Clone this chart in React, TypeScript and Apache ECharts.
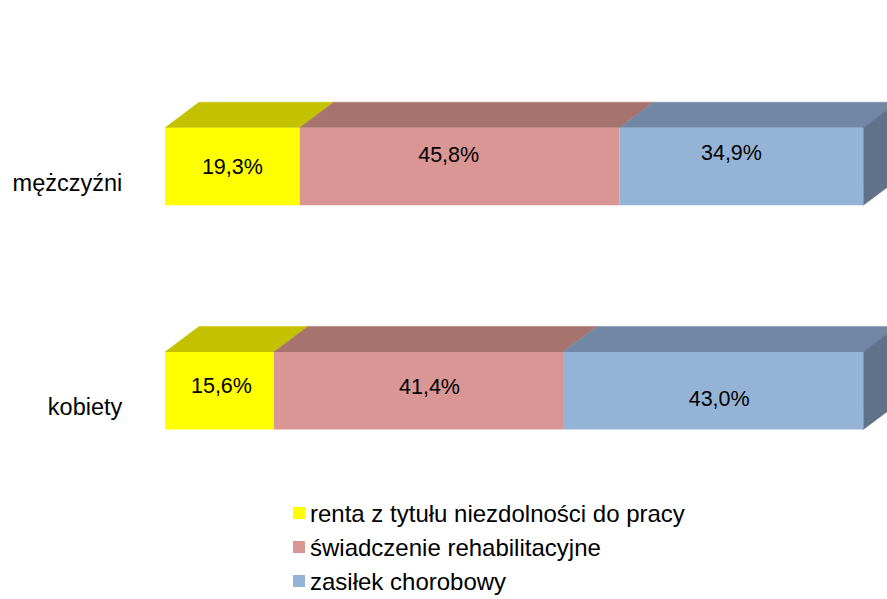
import React, { useEffect, useRef } from "react";
import * as echarts from "echarts";

const categories = ["mężczyźni", "kobiety"];
const seriesNames = [
  "renta z tytułu niezdolności do pracy",
  "świadczenie rehabilitacyjne",
  "zasiłek chorobowy",
];
const rentaValues = [19.3, 15.6];
const swiadczenieValues = [45.8, 41.4];
const zasilekValues = [34.9, 43.0];

const frontColors = ["#FFFF00", "#D99694", "#95B3D7"];
const topColors = ["#C4C200", "#A7736F", "#7287A3"];
const sideColors = ["#A0A000", "#8A5E5C", "#60728A"];

// label nudges (pixels) per series, per category
const labelOffsets = [
  [[0, 0], [2, -5]],
  [[-11, -12], [11, -4]],
  [[-10, -14], [6, 8]],
];

const BAR_H = 77.6;
const DX = 34;
const DY = 25.5;
const FONT = "Liberation Sans, Arial, sans-serif";

export default function App() {
  const ref = useRef<HTMLDivElement>(null);

  useEffect(() => {
    if (!ref.current) return;
    const chart = echarts.init(ref.current, null, { renderer: "svg" });
    const allValues = [rentaValues, swiadczenieValues, zasilekValues];
    const fmt = (v: number) => v.toFixed(1).replace(".", ",") + "%";

    const barSeries = allValues.map((vals, si) => ({
      name: seriesNames[si],
      type: "bar",
      stack: "total",
      barWidth: BAR_H,
      itemStyle: { color: frontColors[si] },
      label: {
        show: true,
        position: "inside",
        color: "#000",
        fontFamily: FONT,
        fontSize: 21.5,
        formatter: (p: any) => fmt(p.value),
      },
      z: 3,
      data: vals.map((v, ci) => ({
        value: v,
        label: { offset: labelOffsets[si][ci] },
      })),
    }));

    // 3D faces data: [start, end, categoryIndex, seriesIndex]
    const faceData: number[][] = [];
    categories.forEach((_, ci) => {
      let acc = 0;
      allValues.forEach((vals, si) => {
        faceData.push([acc, acc + vals[ci], ci, si]);
        acc += vals[ci];
      });
    });

    const faces = {
      type: "custom",
      name: "faces",
      clip: false,
      z: 2,
      silent: true,
      encode: { x: [0, 1], y: 2 },
      renderItem: (params: any, api: any) => {
        const s = api.value(0);
        const e = api.value(1);
        const ci = api.value(2);
        const si = api.value(3);
        const p0 = api.coord([s, ci]);
        const p1 = api.coord([e, ci]);
        const yTop = p0[1] - BAR_H / 2;
        const yBot = p0[1] + BAR_H / 2;
        const x0 = p0[0];
        const x1 = p1[0];
        const children: any[] = [
          {
            type: "polygon",
            shape: {
              points: [
                [x0, yTop],
                [x0 + DX, yTop - DY],
                [x1 + DX, yTop - DY],
                [x1, yTop],
              ],
            },
            style: { fill: topColors[si], stroke: topColors[si], lineWidth: 0.5 },
          },
        ];
        if (si === allValues.length - 1) {
          children.push({
            type: "polygon",
            shape: {
              points: [
                [x1, yTop],
                [x1 + DX, yTop - DY],
                [x1 + DX, yBot - DY],
                [x1, yBot],
              ],
            },
            style: { fill: sideColors[si], stroke: sideColors[si], lineWidth: 0.5 },
          });
        }
        return { type: "group", children };
      },
      data: faceData,
    };

    chart.setOption({
      animation: false,
      backgroundColor: "#ffffff",
      textStyle: { fontFamily: FONT },
      grid: { left: 165, top: 54.4, width: 698.3, height: 448.4 },
      xAxis: {
        type: "value",
        min: 0,
        max: 100,
        show: false,
      },
      yAxis: {
        type: "category",
        inverse: true,
        data: categories,
        axisLine: { show: false },
        axisTick: { show: false },
        splitLine: { show: false },
        axisLabel: {
          margin: 42.7,
          formatter: "{l|{value}}",
          rich: {
            l: {
              color: "#000",
              fontSize: 23.5,
              fontFamily: FONT,
              padding: [32, 0, 0, 0],
            },
          },
        },
      },
      legend: {
        orient: "vertical",
        left: 293,
        top: 501,
        padding: 0,
        itemWidth: 12,
        itemHeight: 12,
        itemGap: 10,
        icon: "rect",
        data: seriesNames,
        textStyle: {
          color: "#000",
          fontSize: 24,
          lineHeight: 24,
          fontFamily: FONT,
        },
      },
      series: [faces, ...barSeries],
    });
    return () => chart.dispose();
  }, []);

  return (
    <div
      ref={ref}
      style={{ position: "absolute", left: 0, top: 0, width: 887, height: 599 }}
    />
  );
}
